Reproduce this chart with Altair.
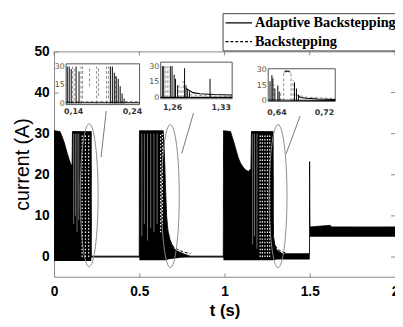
import altair as alt
import pandas as pd

W, H = 348, 230

# ---------------- main plot data ----------------
xticks = [0, 0.5, 1, 1.5, 2]
yticks = [0, 10, 20, 30, 40, 50]
series_names = ["Adaptive Backstepping", "Backstepping"]

# envelope of the dense switching current (Adaptive Backstepping)
env_t = [0.0, 0.035, 0.045, 0.06, 0.075, 0.088, 0.098, 0.106, 0.108, 0.218, 0.219, 0.5,
         0.501, 0.64, 0.645, 0.652, 0.66, 0.668, 0.68, 0.7, 0.72, 0.74, 0.77, 0.8, 0.993,
         0.994, 1.035, 1.05, 1.065, 1.08, 1.094, 1.11, 1.122, 1.14, 1.155, 1.158, 1.285,
         1.287, 1.295, 1.305, 1.32, 1.34, 1.4985, 1.499, 1.5, 1.501, 1.503, 1.62, 1.625, 2.0]
env_hi = [30.7, 30.5, 29.5, 27.8, 25.5, 23.8, 22.5, 22.3, 30.5, 30.5, 0.2, 0.2,
          30.7, 30.7, 27.6, 19.0, 10.0, 6.5, 4.2, 2.2, 1.5, 1.1, 0.6, 0.2, 0.2,
          30.7, 30.5, 28.5, 26.4, 24.2, 22.8, 21.8, 21.2, 20.8, 21.5, 30.5, 30.5,
          5.0, 3.0, 1.8, 1.3, 0.8, 0.8, 23.2, 10.5, 7.3, 7.3, 7.7, 7.3, 7.3]
env_lo = [-1.0, -1.0, -1.0, -1.0, -1.0, -1.0, -1.0, -1.0, -1.0, -1.0, -0.1, -0.1,
          -0.8, -0.8, -0.8, -0.8, -0.8, -0.6, -0.5, -0.4, -0.3, -0.2, -0.1, -0.1, -0.1,
          -0.8, -0.8, -0.8, -0.8, -0.8, -0.8, -0.8, -0.8, -0.8, -0.8, -0.8, -0.8,
          -0.7, -0.7, -0.6, -0.6, -0.6, -0.6, -0.6, -0.6, 4.9, 4.9, 4.9, 4.9, 4.9]

# lighter streaks inside the bursts
streak_t = [0.115, 0.125, 0.135, 0.145, 0.515, 0.53, 0.548, 0.567, 0.586, 0.605, 1.165, 1.176, 1.19]
streak_lo = [8, 10, 6, 9, 5, 8, 4, 7, 6, 8, 3, 5, 2]
streak_hi = [30, 30, 30, 30, 30, 30, 30, 30, 30, 30, 30, 30, 30]

# dotted columns of the Backstepping switching
dot_t = [0.165, 0.184, 0.203, 0.625, 0.636, 1.209, 1.222, 1.237, 1.252, 1.265]
dot_lo = [0, 0, 0, 6, 8, 0, 0, 0, 0, 0]
dot_hi = [30, 30, 30, 30, 30, 30, 30, 30, 30, 30]

# Backstepping decay tails
bs_t = [0.655, 0.668, 0.685, 0.705, 0.73, 0.76, 0.8, 1.28, 1.29, 1.3, 1.315, 1.335, 1.36]
bs_v = [6.0, 4.3, 3.2, 2.4, 1.7, 1.2, 0.8, 5.0, 3.4, 2.6, 1.8, 1.3, 1.0]
bs_seg = ["b1"] * 7 + ["b2"] * 6

# zoom ellipses and connectors
ell_t = [0.206, 0.682, 1.314]
ell_v = [15.0, 14.8, 14.8]
con_t1 = [0.306, 0.818, 1.444]
con_v1 = [35.5, 35.0, 34.3]
con_t2 = [0.276, 0.749, 1.361]
con_v2 = [24.3, 25.2, 25.1]

# ---------------- inset data ----------------
in1_dom_t = [0.128, 0.253]
in1_dom_v = [-1.0, 32.2]
in1_ticks = [0.14, 0.24]
in1_spk_t = [0.130, 0.1333, 0.1367, 0.145, 0.150, 0.2033, 0.2067, 0.21, 0.2133, 0.2167, 0.22, 0.2233, 0.2267]
in1_spk_v = [30, 30, 28, 30, 26, 30, 30, 25, 22, 20, 14, 8, 4]
in1_dash_t = [0.139, 0.1417, 0.1533, 0.156, 0.168, 0.18, 0.1833, 0.1967, 0.2, 0.212]
in1_dash_lo = [0, 2, 0, 4, 14, 0, 6, 0, 4, 0]
in1_dash_hi = [30, 30, 30, 30, 30, 30, 30, 30, 30, 24]
in1_ln_t = [0.128, 0.253]
in1_ln_v = [0.5, 0.5]
in1_ln_seg = ["base", "base"]
in1_gl_t = [0.128, 0.253]
in1_gl_v = [1.5, 1.5]
in1_gl_seg = ["g", "g"]

in2_dom_t = [1.2436, 1.3464]
in2_dom_v = [-0.7, 33.7]
in2_ticks = [1.26, 1.33]
in2_spk_t = [1.246, 1.248, 1.2575, 1.26, 1.263, 1.265, 1.268, 1.278, 1.28, 1.282, 1.285, 1.3146]
in2_spk_v = [30, 30, 30, 30, 22, 18, 12, 28, 12, 8, 6, 18]
in2_dash_t = [1.251, 1.254, 1.27, 1.273, 1.276]
in2_dash_lo = [0, 0, 0, 0, 0]
in2_dash_hi = [30, 30, 14, 10, 16]
in2_ln_t = [1.2436, 1.3464, 1.28, 1.29, 1.3, 1.32, 1.3464]
in2_ln_v = [0.5, 0.5, 9, 5, 4, 3.3, 2.8]
in2_ln_seg = ["base", "base", "tail", "tail", "tail", "tail", "tail"]
in2_gl_t = [1.285, 1.31, 1.3464]
in2_gl_v = [3.0, 2.0, 1.5]
in2_gl_seg = ["g", "g", "g"]

in3_dom_t = [0.626, 0.739]
in3_dom_v = [-0.5, 31.2]
in3_ticks = [0.64, 0.72]
in3_spk_t = [0.629, 0.6322, 0.6339, 0.6372, 0.6422, 0.6445, 0.6703, 0.6736, 0.6769]
in3_spk_v = [19, 25, 22, 12, 15, 9, 18, 12, 6]
in3_dash_t = [0.6355, 0.647, 0.6521, 0.6645, 0.668]
in3_dash_lo = [0, 0, 0, 0, 0]
in3_dash_hi = [16, 8, 28, 28, 20]
in3_ln_t = [0.626, 0.68, 0.739, 0.6538, 0.662, 0.6769, 0.68, 0.69, 0.71, 0.739]
in3_ln_v = [0.8, 0.6, 0.5, 28.8, 28.8, 5, 3.2, 2.5, 1.8, 1.3]
in3_ln_seg = ["base", "base", "base", "top", "top", "tail", "tail", "tail", "tail", "tail"]
in3_gl_t = [0.6521, 0.6645, 0.672, 0.69, 0.739]
in3_gl_v = [28, 28, 6, 3.5, 2.2]
in3_gl_seg = ["p", "p", "t", "t", "t"]

# ---------------- main layers ----------------
sx = alt.Scale(domain=[0, 2], nice=False, zero=False)
sy = alt.Scale(domain=[-4.8, 50], nice=False, zero=False)

x_axis = alt.Axis(orient="bottom", values=xticks, format="~g", offset=-4, tickSize=4,
                  domain=False, grid=False, tickColor="#888", labelFont="Liberation Sans",
                  labelFontSize=14, labelFontWeight="bold", labelColor="black", labelPadding=8,
                  labelFlush=False, title="t (s)", titleFont="Liberation Sans", titleFontSize=17,
                  titleFontWeight="bold", titleColor="black", titlePadding=5)
y_axis = alt.Axis(orient="left", values=yticks, format="d", offset=-4, tickSize=4,
                  domain=False, grid=False, tickColor="#888", labelFont="Liberation Sans",
                  labelFontSize=14, labelFontWeight="bold", labelColor="black", labelPadding=5,
                  labelFlush=False, title="current (A)", titleFont="Liberation Sans",
                  titleFontSize=20, titleFontWeight="normal", titleColor="black", titlePadding=2)

env_df = pd.DataFrame({"t": env_t, "hi": env_hi, "lo": env_lo})
area = alt.Chart(env_df).mark_area(color="black", opacity=1).encode(
    x=alt.X("t:Q", scale=sx, axis=x_axis),
    y=alt.Y("hi:Q", scale=sy, axis=y_axis),
    y2=alt.Y2("lo"),
)

streaks = alt.Chart(pd.DataFrame({"t": streak_t, "lo": streak_lo, "hi": streak_hi})).mark_rule(
    color="#777777", strokeWidth=0.9).encode(
    x=alt.X("t:Q", scale=sx, axis=None),
    y=alt.Y("lo:Q", scale=sy, axis=None),
    y2=alt.Y2("hi"),
)

dots = alt.Chart(pd.DataFrame({"t": dot_t, "lo": dot_lo, "hi": dot_hi})).mark_rule(
    color="white", strokeWidth=1.2, strokeDash=[1.5, 2]).encode(
    x=alt.X("t:Q", scale=sx, axis=None),
    y=alt.Y("lo:Q", scale=sy, axis=None),
    y2=alt.Y2("hi"),
)

# legend symbol: a 27px horizontal stroke inside a 14px symbol box
LEG_SYM = "M -1 0 L 2.86 0"

line_df = pd.DataFrame({
    "t": env_t + bs_t,
    "v": env_hi + bs_v,
    "seg": ["a"] * len(env_t) + bs_seg,
    "series": [series_names[0]] * len(env_t) + [series_names[1]] * len(bs_t),
})
lines = alt.Chart(line_df).mark_line(color="black", strokeWidth=1).encode(
    x=alt.X("t:Q", scale=sx, axis=None),
    y=alt.Y("v:Q", scale=sy, axis=None),
    detail="seg:N",
    strokeDash=alt.StrokeDash(
        "series:N",
        scale=alt.Scale(domain=series_names, range=[[1, 0], [3, 2]]),
        legend=alt.Legend(orient="none", legendX=172, legendY=-39, title=None,
                          direction="vertical", symbolType=LEG_SYM, symbolSize=196,
                          symbolStrokeWidth=1.3, symbolStrokeColor="black",
                          symbolFillColor="transparent",
                          labelFont="Liberation Serif", labelFontSize=14.5,
                          labelFontWeight="bold", labelColor="black", strokeColor="#444",
                          fillColor="white", padding=2, rowPadding=4, labelOffset=15),
    ),
)

top_ticks = alt.Chart(pd.DataFrame({"t": xticks})).mark_rule(color="#888").encode(
    x=alt.X("t:Q", scale=sx, axis=None), y=alt.value(0), y2=alt.value(4))
right_ticks = alt.Chart(pd.DataFrame({"v": yticks})).mark_rule(color="#888").encode(
    y=alt.Y("v:Q", scale=sy, axis=None), x=alt.value(W - 4), x2=alt.value(W))

ELL = ("M 0 -1 C 0.069 -1 0.125 -0.552 0.125 0 C 0.125 0.552 0.069 1 0 1 "
       "C -0.069 1 -0.125 0.552 -0.125 0 C -0.125 -0.552 -0.069 -1 0 -1 Z")
ellipses = alt.Chart(pd.DataFrame({"t": ell_t, "v": ell_v})).mark_point(
    shape=ELL, size=21316, filled=False, color="#8a8a8a", strokeWidth=1, opacity=1).encode(
    x=alt.X("t:Q", scale=sx, axis=None),
    y=alt.Y("v:Q", scale=sy, axis=None),
)

connectors = alt.Chart(pd.DataFrame({"t1": con_t1, "v1": con_v1, "t2": con_t2, "v2": con_v2})).mark_rule(
    color="#777", strokeWidth=1).encode(
    x=alt.X("t1:Q", scale=sx, axis=None),
    y=alt.Y("v1:Q", scale=sy, axis=None),
    x2=alt.X2("t2"),
    y2=alt.Y2("v2"),
)


# ---------------- insets ----------------
def inset(dom_t, dom_v, rx, ry, ticks_t, lab_pad, spk_t, spk_v, dash_t, dash_lo, dash_hi,
          ln_t, ln_v, ln_seg, gl_t, gl_v, gl_seg):
    isx = alt.Scale(domain=dom_t, range=rx, nice=False, zero=False)
    isy = alt.Scale(domain=dom_v, range=ry, nice=False, zero=False)
    ax = alt.Axis(orient="bottom", offset=ry[0] - H, values=ticks_t,
                  labelExpr="replace(format(datum.value, '.2f'), '.', ',')",
                  domain=False, ticks=False, grid=False, labelFont="DejaVu Sans",
                  labelFontSize=8, labelFontWeight="bold", labelColor="#333",
                  labelPadding=lab_pad, labelFlush=False, title=None)
    ay = alt.Axis(orient="left", offset=-rx[0], values=[0, 15, 30], format="d",
                  domain=False, ticks=False, grid=False, labelFont="DejaVu Sans",
                  labelFontSize=8, labelColor="#5a5040", labelPadding=2, labelFlush=False,
                  title=None)
    frame_df = pd.DataFrame({"t0": [dom_t[0]], "t1": [dom_t[1]], "v0": [dom_v[0]], "v1": [dom_v[1]]})
    frame = alt.Chart(frame_df).mark_rect(fill="white", stroke="#555", strokeWidth=1).encode(
        x=alt.X("t0:Q", scale=isx, axis=ax), x2=alt.X2("t1"),
        y=alt.Y("v0:Q", scale=isy, axis=ay), y2=alt.Y2("v1"))
    dash = alt.Chart(pd.DataFrame({"t": dash_t, "lo": dash_lo, "hi": dash_hi})).mark_rule(
        color="#8c8c8c", strokeWidth=1, strokeDash=[3, 2]).encode(
        x=alt.X("t:Q", scale=isx, axis=None), y=alt.Y("lo:Q", scale=isy, axis=None),
        y2=alt.Y2("hi"))
    glines = alt.Chart(pd.DataFrame({"t": gl_t, "v": gl_v, "seg": gl_seg})).mark_line(
        color="#8c8c8c", strokeWidth=1, strokeDash=[3, 2]).encode(
        x=alt.X("t:Q", scale=isx, axis=None), y=alt.Y("v:Q", scale=isy, axis=None),
        detail="seg:N")
    slines = alt.Chart(pd.DataFrame({"t": ln_t, "v": ln_v, "seg": ln_seg})).mark_line(
        color="black", strokeWidth=1.2).encode(
        x=alt.X("t:Q", scale=isx, axis=None), y=alt.Y("v:Q", scale=isy, axis=None),
        detail="seg:N", order=alt.Order("t:Q"))
    spikes = alt.Chart(pd.DataFrame({"t": spk_t, "v": spk_v, "lo": [0] * len(spk_t)})).mark_rule(
        color="black", strokeWidth=1).encode(
        x=alt.X("t:Q", scale=isx, axis=None), y=alt.Y("lo:Q", scale=isy, axis=None),
        y2=alt.Y2("v"))
    return [frame, dash, glines, slines, spikes]


in1 = inset(in1_dom_t, in1_dom_v, [12.3, 87.3], [54.3, 12.7], in1_ticks, 3,
            in1_spk_t, in1_spk_v, in1_dash_t, in1_dash_lo, in1_dash_hi,
            in1_ln_t, in1_ln_v, in1_ln_seg, in1_gl_t, in1_gl_v, in1_gl_seg)
in2 = inset(in2_dom_t, in2_dom_v, [108.8, 181.8], [48.3, 11.0], in2_ticks, 5,
            in2_spk_t, in2_spk_v, in2_dash_t, in2_dash_lo, in2_dash_hi,
            in2_ln_t, in2_ln_v, in2_ln_seg, in2_gl_t, in2_gl_v, in2_gl_seg)
in3 = inset(in3_dom_t, in3_dom_v, [218.6, 287.0], [51.0, 17.7], in3_ticks, 7,
            in3_spk_t, in3_spk_v, in3_dash_t, in3_dash_lo, in3_dash_hi,
            in3_ln_t, in3_ln_v, in3_ln_seg, in3_gl_t, in3_gl_v, in3_gl_seg)

layers = [area, streaks, dots, lines, top_ticks, right_ticks, ellipses, connectors] + in1 + in2 + in3

chart = alt.layer(*layers).resolve_scale(
    x="independent", y="independent"
).properties(
    width=W, height=H,
    autosize=alt.AutoSizeParams(type="none"),
    padding={"left": 47, "top": 41, "right": 0, "bottom": 48},
).configure_view(stroke="#888", strokeWidth=1)

chart.save("out.html", embed_options={"renderer": "svg", "actions": False})
